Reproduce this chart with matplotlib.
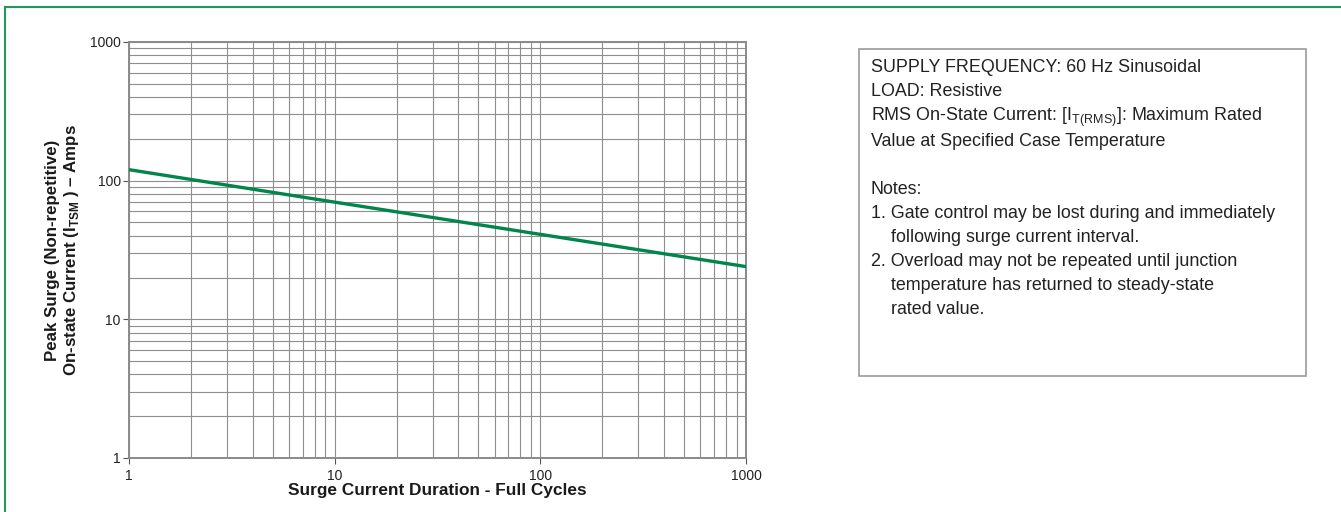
import numpy as np
import matplotlib.pyplot as plt
from matplotlib.patches import Rectangle
from matplotlib.ticker import LogLocator, FixedLocator, NullFormatter

plt.rcParams['font.family'] = ['Liberation Sans', 'DejaVu Sans']
plt.rcParams['mathtext.fontset'] = 'custom'
plt.rcParams['mathtext.rm'] = 'Liberation Sans'
plt.rcParams['mathtext.bf'] = 'Liberation Sans:bold'

# surge rating curve
cycles = [1, 10, 100, 1000]
peak_amps = [120, 70, 41, 24]

x_ticks = [1, 10, 100, 1000]
y_ticks = [1, 10, 100, 1000]

green = '#00854a'
grid_c = '#8e8e8e'

fig = plt.figure(figsize=(13.41, 5.12), dpi=100)

# outer green frame (only top and left visible)
fig.patches.append(Rectangle((0.0037, -0.1), 1.2, 1.086, transform=fig.transFigure,
                             fill=False, edgecolor='#1f9a5c', linewidth=1.5))

ax = fig.add_axes([0.0962, 0.1055, 0.4601, 0.8125])
ax.plot(cycles, peak_amps, color=green, linewidth=2.4, solid_capstyle='butt', zorder=3)
ax.set_xscale('log')
ax.set_yscale('log')
ax.set_xlim(1, 1000)
ax.set_ylim(1, 1000)

ax.xaxis.set_major_locator(FixedLocator(x_ticks))
ax.yaxis.set_major_locator(FixedLocator(y_ticks))
ax.set_xticklabels([str(v) for v in x_ticks])
ax.set_yticklabels([str(v) for v in y_ticks])
ax.xaxis.set_minor_locator(LogLocator(base=10, subs=np.arange(2, 10)))
ax.yaxis.set_minor_locator(LogLocator(base=10, subs=np.arange(2, 10)))
ax.xaxis.set_minor_formatter(NullFormatter())
ax.yaxis.set_minor_formatter(NullFormatter())

ax.grid(True, which='both', color=grid_c, linewidth=0.8)
ax.set_axisbelow(True)
ax.tick_params(which='major', direction='out', length=4, width=0.8, color='#555555',
               labelsize=10, labelcolor='#222222', pad=2)
ax.tick_params(axis='x', which='major', pad=4)
ax.tick_params(which='minor', length=0)
for s in ax.spines.values():
    s.set_color('#8a8a8a')
    s.set_linewidth(1.4)

ax.set_xlabel('Surge Current Duration - Full Cycles', fontsize=12.4, fontweight='bold',
              color='#1a1a1a', labelpad=0)
ax.set_ylabel('Peak Surge (Non-repetitive)\nOn-state Current (I$_\\mathregular{TSM}$ ) – Amps',
              fontsize=12.2, fontweight='bold', color='#1a1a1a', labelpad=6, linespacing=1.15)

# notes box
fig.patches.append(Rectangle((0.6406, 0.2656), 0.3333, 0.6387, transform=fig.transFigure,
                             fill=False, edgecolor='#9a9a9a', linewidth=1.2))

notes = [
    (871, 66.7, 'SUPPLY FREQUENCY: 60 Hz Sinusoidal'),
    (871, 91, 'LOAD: Resistive'),
    (871, 115.5, 'RMS On-State Current: [I$_\\mathregular{T(RMS)}$]: Maximum Rated'),
    (871, 140, 'Value at Specified Case Temperature'),
    (871, 188, 'Notes:'),
    (871, 212, '1. Gate control may be lost during and immediately'),
    (891, 236, 'following surge current interval.'),
    (871, 260, '2. Overload may not be repeated until junction'),
    (891, 284, 'temperature has returned to steady-state'),
    (891, 308, 'rated value.'),
]
for px, py, txt in notes:
    fig.text(px / 1341, 1 - (py + 5.5) / 512, txt, fontsize=12.9, color='#222222',
             ha='left', va='baseline')

fig.savefig('out.png', dpi=100)
